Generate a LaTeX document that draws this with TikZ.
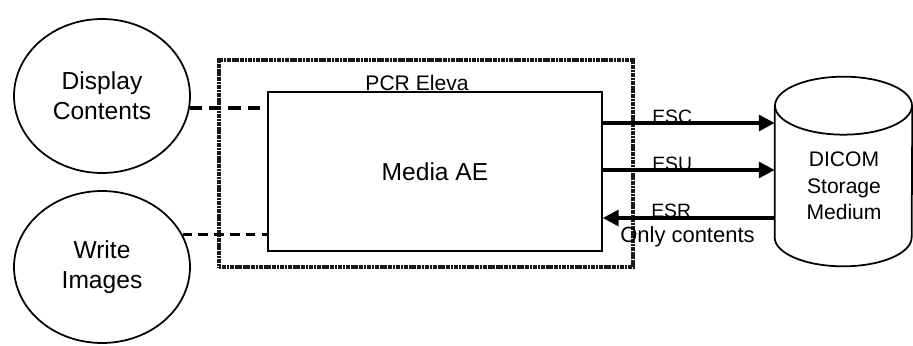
\documentclass[tikz,border=0pt]{standalone}
\usepackage{fontspec}
\setmainfont{Liberation Sans}
\usetikzlibrary{arrows.meta,positioning,calc,shapes.geometric}
\tikzset{
  actor/.style={ellipse,draw,line width=1pt,minimum width=3.52cm,minimum height=3.08cm,align=center,font=\fontsize{14}{17}\selectfont,inner sep=0pt},
  aebox/.style={draw,line width=0.9pt,fill=white,minimum width=6.68cm,minimum height=3.18cm,font=\fontsize{14}{16}\selectfont},
  sysbox/.style={draw=black!90,line width=2.2pt,dash pattern=on 1.2pt off 0.3pt,minimum width=8.28cm,minimum height=4.14cm},
  stor/.style={minimum width=2.74cm,minimum height=3.78cm,inner sep=0pt},
  stortxt/.style={align=center,font=\fontsize{12}{15}\selectfont,inner sep=0pt},
  arr/.style={-{Triangle[length=9pt,width=9pt]},line width=2pt},
  heavydash/.style={line width=2.3pt,dash pattern=on 7pt off 4pt},
  lightdash/.style={line width=1.3pt,dash pattern=on 5.5pt off 3.5pt},
  lbl/.style={font=\fontsize{11}{13}\selectfont,inner sep=0pt},
  sysname/.style={font=\fontsize{12}{14}\selectfont,inner sep=0pt},
}
\begin{document}
\begin{tikzpicture}[x=0.02cm,y=-0.02cm]
  \useasboundingbox (0,0) rectangle (913,345);
  \node[actor] (disp) at (102,96) {Display\\Contents};
  \node[actor,minimum height=3.04cm] (write) at (102,267) {Write\\Images};
  \node[sysbox] (eleva) at (426,163.5) {};
  \node[sysname] (elevaname) at (417,83) {PCR Eleva};
  \node[aebox] (media) at (435,171.5) {Media AE};
  \node[stor] (dicom) at (843.5,171.5) {};
  \draw[line width=1pt] ($(dicom.north west)+(0,29)$) -- ($(dicom.south west)+(0,-29)$)
    arc[start angle=180,end angle=360,x radius=1.37cm,y radius=0.58cm] -- ($(dicom.north east)+(0,29)$);
  \draw[line width=1pt] ($(dicom.north)+(0,29)$) ellipse[x radius=1.37cm,y radius=0.58cm];
  \node[stortxt] (dicomtxt) at (844,186) {DICOM\\Storage\\Medium};
  \draw[heavydash] (disp.-8) -- (disp.-8 -| media.west);
  \draw[lightdash] (write.22) -- (write.22 -| media.west);
  \draw[arr] ($(media.east)+(0,-48.5)$) -- ($(dicom.west)+(0,-48.5)$);
  \draw[arr] ($(media.east)+(0,-1.5)$) -- ($(dicom.west)+(0,-1.5)$);
  \draw[arr] ($(dicom.west)+(0,46.5)$) -- ($(media.east)+(0,46.5)$);
  \node[lbl,anchor=south west] (esc) at (652,124) {ESC};
  \node[lbl,anchor=south west] (esu) at (652,171) {ESU};
  \node[lbl,anchor=south west] (esr) at (651,218) {ESR};
  \node[lbl,font=\fontsize{12.5}{14}\selectfont,anchor=west] (only) at (620,237) {Only contents};
\end{tikzpicture}
\end{document}
